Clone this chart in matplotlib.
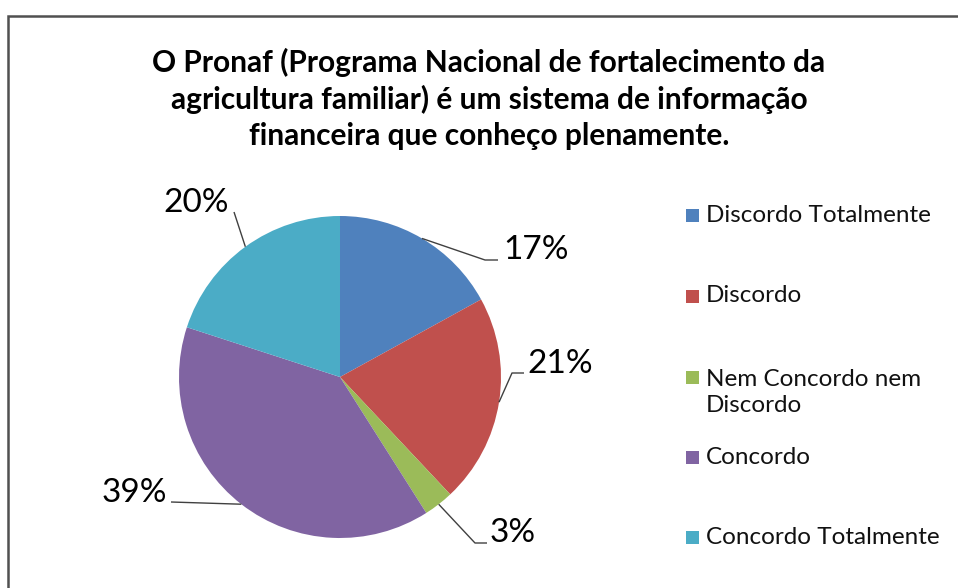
import matplotlib
matplotlib.use("Agg")
import matplotlib.pyplot as plt
from matplotlib.patches import Rectangle
import numpy as np

categories = ["Discordo Totalmente", "Discordo", "Nem Concordo nem\nDiscordo",
              "Concordo", "Concordo Totalmente"]
values = [17, 21, 3, 39, 20]
pct_labels = ["17%", "21%", "3%", "39%", "20%"]
colors = ["#4F81BD", "#C0504D", "#9BBB59", "#8064A2", "#4BACC6"]
title = ("O Pronaf (Programa Nacional de fortalecimento da\n"
         "agricultura familiar) é um sistema de informação\n"
         "financeira que conheço plenamente.")

W, H = 958, 588
fig = plt.figure(figsize=(W / 100, H / 100), dpi=100)
ax = fig.add_axes([0, 0, 1, 1])

def Y(py):
    return H - py

FONT = "Lato"

cx, cy, r = 340, Y(377), 161
wedges, _ = ax.pie(values, colors=colors, startangle=90, counterclock=False,
                   center=(cx, cy), radius=r, frame=True,
                   wedgeprops=dict(linewidth=0))
ax.set_xlim(0, W)
ax.set_ylim(0, H)
ax.set_aspect("equal")
ax.axis("off")

# frame
ax.add_patch(Rectangle((8, Y(600)), 1100, 600 - 16, fill=False,
                       edgecolor="#505050", linewidth=1.8, clip_on=False))

ax.text(489, Y(99), title, ha="center", va="center", fontsize=21.5,
        fontweight="bold", family=FONT, linespacing=1.32, color="#000000")

# label layout: (elbow x, elbow y in px, end x, text x, text y, ha)
layout = [
    (485, 260, 498, 503, 250, "left"),
    (512, 373, 524, 527, 364, "left"),
    (475, 543, 487, 490, 533, "left"),
    (171, 502, 171, 167, 493, "right"),
    (234, 212, 234, 229, 203, "right"),
]
for w, lab, (ex, ey, endx, tx, ty, ha) in zip(wedges, pct_labels, layout):
    mid = np.deg2rad((w.theta1 + w.theta2) / 2)
    px, py = cx + r * np.cos(mid), cy + r * np.sin(mid)
    ax.plot([px, ex, endx], [py, Y(ey), Y(ey)], color="#404040", lw=1.0,
            solid_capstyle="butt")
    ax.text(tx, Y(ty), lab, ha=ha, va="center", fontsize=24, family=FONT,
            color="#000000")

# legend
leg_y = [215, 296, 377, 457, 537]
line_gap = 31
for c, cat, ly in zip(colors, categories, leg_y):
    n = cat.count("\n") + 1
    ax.add_patch(Rectangle((686, Y(ly) - 6.5), 13, 13, facecolor=c,
                           edgecolor="none"))
    ax.text(706, Y(ly + (n - 1) * line_gap / 2), cat, ha="left", va="center",
            fontsize=17.5, family=FONT, color="#111111", linespacing=1.27)

fig.savefig("out.png", dpi=100)
